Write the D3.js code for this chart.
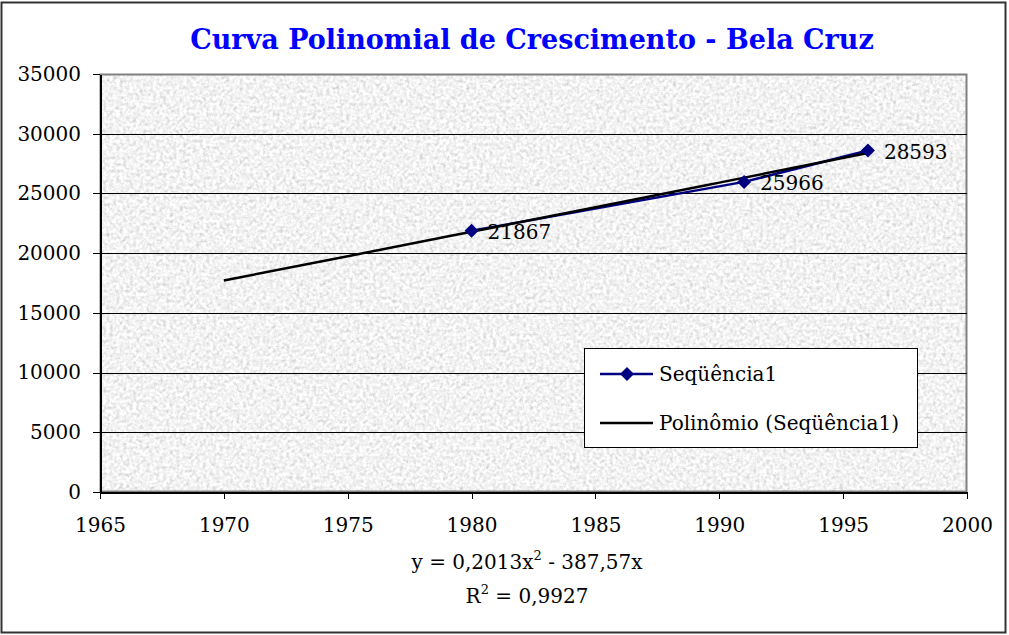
<!DOCTYPE html>
<meta charset="utf-8">
<html>
<head>
<script src="https://d3js.org/d3.v7.min.js" charset="utf-8"></script>
<style type="text/css">
    body { margin: 0; background: #fff; }
    text { font-family: "DejaVu Serif", "Liberation Serif", serif; fill: #000; }
    .axis path, .axis line { stroke: #000; shape-rendering: crispEdges; }
    .axis text { font-size: 20px; font-family: "DejaVu Serif", serif; }
</style>
</head>
<body>
<svg id="chart" width="1009" height="635"></svg>
<script type="text/javascript">
// data
var years = [1980, 1991, 1996];
var population = [21867, 25966, 28593];
// trend line points (polynomial from the chart)
var trendYears = [1970, 1975, 1980, 1985, 1990, 1996];
var trendValues = [17710, 19745, 21790, 23840, 25905, 28390];
var xTicks = [1965, 1970, 1975, 1980, 1985, 1990, 1995, 2000];
var yTicks = [0, 5000, 10000, 15000, 20000, 25000, 30000, 35000];

var svg = d3.select("#chart");
var plotLeft = 100, plotRight = 967, plotTop = 74, plotBottom = 492;

// outer frame
svg.append("rect")
    .attr("x", 1.5).attr("y", 2.5)
    .attr("width", 1004).attr("height", 630)
    .attr("fill", "#fff").attr("stroke", "#333").attr("stroke-width", 2);

// noise texture for plot area
var defs = svg.append("defs");
var filt = defs.append("filter").attr("id", "grain")
    .attr("x", 0).attr("y", 0).attr("width", "100%").attr("height", "100%");
filt.append("feTurbulence")
    .attr("type", "fractalNoise").attr("baseFrequency", 0.3)
    .attr("numOctaves", 3).attr("seed", 4).attr("result", "noise");
filt.append("feColorMatrix").attr("in", "noise").attr("type", "matrix")
    .attr("values", "0.45 0.45 0 0 0.44  0.45 0.45 0 0 0.44  0.45 0.45 0 0 0.44  0 0 0 0 1");

var xScale = d3.scaleLinear().domain([1965, 2000]).range([plotLeft, plotRight]);
var yScale = d3.scaleLinear().domain([0, 35000]).range([plotBottom, plotTop]);

svg.append("rect")
    .attr("x", plotLeft).attr("y", plotTop)
    .attr("width", plotRight - plotLeft).attr("height", plotBottom - plotTop)
    .attr("fill", "#e4e4e4")
    .attr("filter", "url(#grain)");

// plot border (gray)
svg.append("rect")
    .attr("x", plotLeft + 0.5).attr("y", plotTop + 0.5)
    .attr("width", plotRight - plotLeft - 1).attr("height", plotBottom - plotTop - 1)
    .attr("fill", "none").attr("stroke", "#808080").attr("stroke-width", 2);

// gridlines
svg.append("g").selectAll("line")
    .data(yTicks.filter(function(d) { return d > 0 && d < 35000; }))
    .enter().append("line")
    .attr("x1", plotLeft).attr("x2", plotRight)
    .attr("y1", function(d) { return Math.round(yScale(d)) + 0.5; })
    .attr("y2", function(d) { return Math.round(yScale(d)) + 0.5; })
    .attr("stroke", "#000").attr("stroke-width", 1);

// axes
var xAxis = d3.axisBottom(xScale).tickValues(xTicks).tickFormat(d3.format("d"))
    .tickSizeInner(7).tickSizeOuter(0).tickPadding(19);
var yAxis = d3.axisLeft(yScale).tickValues(yTicks).tickFormat(d3.format("d"))
    .tickSizeInner(7).tickSizeOuter(0).tickPadding(12);

svg.append("g").attr("class", "x axis")
    .attr("transform", "translate(0," + plotBottom + ")")
    .call(xAxis)
    .call(function(g) { g.select(".domain").attr("stroke-width", 2); });
svg.append("g").attr("class", "y axis")
    .attr("transform", "translate(" + plotLeft + ",0)")
    .call(yAxis)
    .call(function(g) { g.select(".domain").attr("stroke-width", 2); });

// series line
var line = d3.line()
    .x(function(d) { return xScale(d[0]); })
    .y(function(d) { return yScale(d[1]); });

svg.append("path")
    .datum(d3.zip(years, population))
    .attr("d", line)
    .attr("fill", "none").attr("stroke", "#000080").attr("stroke-width", 2.5);

// trend line
svg.append("path")
    .datum(d3.zip(trendYears, trendValues))
    .attr("d", line.curve(d3.curveMonotoneX))
    .attr("fill", "none").attr("stroke", "#000").attr("stroke-width", 2.5);

// markers
var diamond = d3.symbol().type(d3.symbolDiamond2).size(125);
svg.append("g").selectAll("path")
    .data(d3.zip(years, population))
    .enter().append("path")
    .attr("d", diamond)
    .attr("transform", function(d) { return "translate(" + xScale(d[0]) + "," + yScale(d[1]) + ")"; })
    .attr("fill", "#000080");

// data labels
svg.append("g").selectAll("text")
    .data(d3.zip(years, population))
    .enter().append("text")
    .attr("x", function(d) { return xScale(d[0]) + 16; })
    .attr("y", function(d) { return yScale(d[1]) + 8; })
    .style("font-size", "20px")
    .text(function(d) { return d[1]; });

// title
svg.append("text")
    .attr("x", 532).attr("y", 49)
    .attr("text-anchor", "middle")
    .style("font-size", "27px").style("font-weight", "bold").style("fill", "#0000ff")
    .text("Curva Polinomial de Crescimento - Bela Cruz");

// equation
var eq = svg.append("text").attr("x", 527).attr("y", 569)
    .attr("text-anchor", "middle").style("font-size", "20px");
eq.append("tspan").text("y = 0,2013x");
eq.append("tspan").attr("dy", -9).style("font-size", "13px").text("2");
eq.append("tspan").attr("dy", 9).text(" - 387,57x");

var r2 = svg.append("text").attr("x", 527).attr("y", 603)
    .attr("text-anchor", "middle").style("font-size", "20px");
r2.append("tspan").text("R");
r2.append("tspan").attr("dy", -9).style("font-size", "13px").text("2");
r2.append("tspan").attr("dy", 9).text(" = 0,9927");

// legend
var lg = svg.append("g").attr("transform", "translate(584,348)");
lg.append("rect").attr("x", 0.5).attr("y", 0.5).attr("width", 333).attr("height", 99)
    .attr("fill", "#fff").attr("stroke", "#000").attr("stroke-width", 1);
lg.append("line").attr("x1", 16).attr("x2", 69).attr("y1", 26).attr("y2", 26)
    .attr("stroke", "#000080").attr("stroke-width", 2.5);
lg.append("path").attr("d", diamond).attr("transform", "translate(43,26)").attr("fill", "#000080");
lg.append("text").attr("x", 75).attr("y", 33).style("font-size", "20px").text("Seqüência1");
lg.append("line").attr("x1", 16).attr("x2", 69).attr("y1", 75).attr("y2", 75)
    .attr("stroke", "#000").attr("stroke-width", 2.5);
lg.append("text").attr("x", 75).attr("y", 82).style("font-size", "20px").text("Polinômio (Seqüência1)");
</script>
</body>
</html>
